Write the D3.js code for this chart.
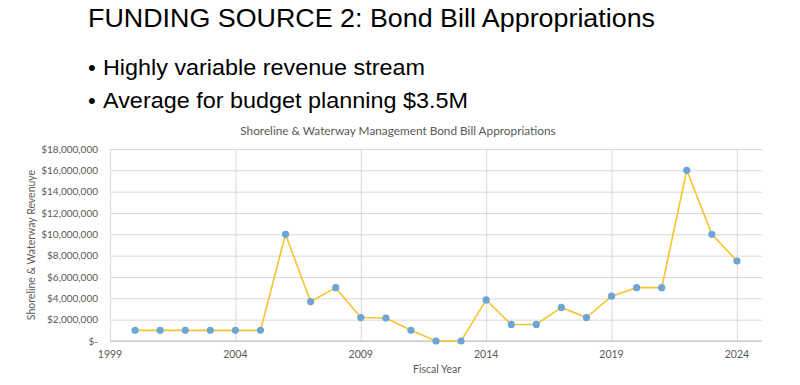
<!DOCTYPE html>
<html>
<head>
<meta charset="utf-8" />
<title>Bond Bill Appropriations</title>
<script src="https://cdn.jsdelivr.net/npm/d3@7"></script>
<style>
    body { margin:0; background:#fff; }
    svg { display:block; }
    .slide { font-family:"Liberation Sans", Arial, sans-serif; fill:#000; }
    .chart text { font-family:Lato, "Open Sans", sans-serif; fill:#595959; }
    .grid line { stroke:#d9d9d9; stroke-width:1; }
    .grid path { display:none; }
</style>
</head>
<body>
<svg id="CHART" width="800" height="385"></svg>
<script>
    // data
    var years = [2000, 2001, 2002, 2003, 2004, 2005, 2006, 2007, 2008, 2009, 2010, 2011, 2012,
                 2013, 2014, 2015, 2016, 2017, 2018, 2019, 2020, 2021, 2022, 2023, 2024];
    var revenue = [1000000, 1000000, 1000000, 1000000, 1000000, 1000000, 10000000, 3700000, 5000000,
                   2200000, 2150000, 1000000, 0, 0, 3850000, 1550000, 1550000, 3150000, 2200000,
                   4200000, 5000000, 5000000, 16000000, 10000000, 7500000];
    var xTicks = [1999, 2004, 2009, 2014, 2019, 2024];
    var yTicks = [0, 2000000, 4000000, 6000000, 8000000, 10000000, 12000000, 14000000, 16000000, 18000000];
    var bullets = ["Highly variable revenue stream", "Average for budget planning $3.5M"];

    var svg = d3.select("#CHART");

    /* slide header */
    svg.append("text").attr("class", "slide")
        .attr("x", 88).attr("y", 27)
        .attr("font-size", 26.5)
        .attr("textLength", 567).attr("lengthAdjust", "spacingAndGlyphs")
        .text("FUNDING SOURCE 2: Bond Bill Appropriations");

    var bulletEnds = [425, 468];
    bullets.forEach(function (b, i) {
        var y = 74.5 + i * 33;
        svg.append("text").attr("class", "slide")
            .attr("x", 88).attr("y", y).attr("font-size", 22).text("\u2022");
        svg.append("text").attr("class", "slide")
            .attr("x", 103).attr("y", y).attr("font-size", 22)
            .attr("textLength", bulletEnds[i] - 103).attr("lengthAdjust", "spacingAndGlyphs")
            .text(b);
    });

    /* chart */
    var L = 110, R = 762, T = 149, B = 341;
    var g = svg.append("g").attr("class", "chart");

    var x = d3.scaleLinear().domain([1999, 2025]).range([L, R]);
    var y = d3.scaleLinear().domain([0, 18000000]).range([B, T]);

    g.append("g").attr("class", "grid")
        .attr("transform", "translate(0," + B + ")")
        .call(d3.axisBottom(x).tickValues(xTicks).tickSize(-(B - T)).tickFormat(""));
    g.append("g").attr("class", "grid")
        .attr("transform", "translate(" + L + ",0)")
        .call(d3.axisLeft(y).tickValues(yTicks).tickSize(-(R - L)).tickFormat(""));

    // bottom axis a bit darker than the grid
    g.append("line").attr("x1", L).attr("x2", R).attr("y1", B).attr("y2", B)
        .attr("stroke", "#bfbfbf").attr("stroke-width", 1);

    var money = d3.format(",");
    g.selectAll(".ylab").data(yTicks).enter().append("text")
        .attr("class", "ylab")
        .attr("x", 98).attr("y", function (d) { return y(d) + 3.5; })
        .attr("text-anchor", "end").attr("font-size", 10)
        .text(function (d) { return d === 0 ? "$-" : "$" + money(d); });

    g.selectAll(".xlab").data(xTicks).enter().append("text")
        .attr("class", "xlab")
        .attr("x", function (d) { return x(d); }).attr("y", 358)
        .attr("text-anchor", "middle").attr("font-size", 10.5)
        .text(function (d) { return d; });

    g.append("text").attr("x", 398).attr("y", 135)
        .attr("text-anchor", "middle").attr("font-size", 11.8)
        .text("Shoreline & Waterway Management Bond Bill Appropriations");

    g.append("text").attr("x", 437).attr("y", 373)
        .attr("text-anchor", "middle").attr("font-size", 10.5)
        .text("Fiscal Year");

    g.append("text")
        .attr("transform", "translate(35,245) rotate(-90)")
        .attr("text-anchor", "middle").attr("font-size", 10.5)
        .text("Shoreline & Waterway Revenuye");

    var pts = years.map(function (yr, i) { return [yr, revenue[i]]; });
    var line = d3.line().x(function (d) { return x(d[0]); }).y(function (d) { return y(d[1]); });

    g.append("path").datum(pts)
        .attr("d", line).attr("fill", "none")
        .attr("stroke", "#f5c431").attr("stroke-width", 1.6);

    g.selectAll(".dot").data(pts).enter().append("circle")
        .attr("class", "dot")
        .attr("cx", function (d) { return x(d[0]); })
        .attr("cy", function (d) { return y(d[1]); })
        .attr("r", 3.6).attr("fill", "#6ba6d6");

    // legend, mostly cut off by the slide edge
    var lg = g.append("g").attr("transform", "translate(574,390)");
    lg.append("line").attr("x1", -12).attr("x2", 12).attr("y1", 0).attr("y2", 0)
        .attr("stroke", "#f5c431").attr("stroke-width", 1.6);
    lg.append("circle").attr("cx", -4).attr("cy", 1).attr("r", 3.6).attr("fill", "#6ba6d6");
</script>
</body>
</html>
